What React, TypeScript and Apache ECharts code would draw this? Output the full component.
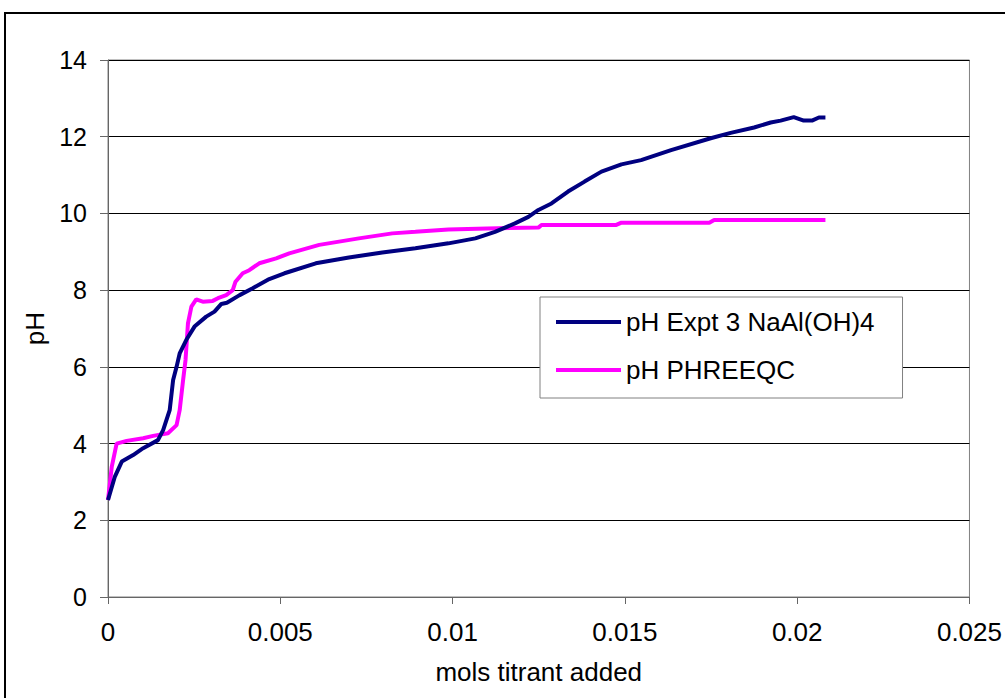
import React, { useEffect, useRef } from "react";
import * as echarts from "echarts";

const exptX = [0, 0.0002, 0.0004, 0.00073, 0.00102, 0.00145, 0.0016, 0.00179, 0.00189, 0.00199, 0.00208, 0.00227, 0.00251, 0.00285, 0.00309, 0.00329, 0.00345, 0.00382, 0.0042, 0.00468, 0.00512, 0.00526, 0.00603, 0.00699, 0.00796, 0.00892, 0.00988, 0.01066, 0.01123, 0.01181, 0.0122, 0.01249, 0.01287, 0.01335, 0.01383, 0.01432, 0.0149, 0.01547, 0.01634, 0.01749, 0.01807, 0.01875, 0.01923, 0.01952, 0.0199, 0.02019, 0.02043, 0.02063, 0.02082];
const exptPH = [2.53, 3.14, 3.53, 3.7, 3.88, 4.09, 4.35, 4.87, 5.66, 6.0, 6.35, 6.7, 7.05, 7.31, 7.44, 7.64, 7.67, 7.87, 8.05, 8.29, 8.44, 8.48, 8.7, 8.85, 8.98, 9.09, 9.22, 9.35, 9.52, 9.74, 9.91, 10.09, 10.26, 10.57, 10.83, 11.09, 11.28, 11.39, 11.65, 11.96, 12.1, 12.24, 12.37, 12.42, 12.51, 12.42, 12.42, 12.5, 12.5];

const phreeqcX = [0, 0.00011, 0.00025, 0.00054, 0.00102, 0.00131, 0.00174, 0.00199, 0.00208, 0.00218, 0.00225, 0.00232, 0.00242, 0.00256, 0.00275, 0.00304, 0.00319, 0.00343, 0.00362, 0.0037, 0.00391, 0.0041, 0.00439, 0.00488, 0.00526, 0.00613, 0.00728, 0.00825, 0.00892, 0.00988, 0.011, 0.01249, 0.01258, 0.01475, 0.0149, 0.01745, 0.01759, 0.02082];
const phreeqcPH = [2.53, 3.4, 4.0, 4.07, 4.14, 4.2, 4.27, 4.48, 4.87, 5.66, 6.18, 7.13, 7.57, 7.76, 7.7, 7.72, 7.79, 7.87, 8.0, 8.22, 8.44, 8.52, 8.7, 8.83, 8.96, 9.18, 9.35, 9.48, 9.52, 9.58, 9.61, 9.63, 9.7, 9.7, 9.76, 9.76, 9.83, 9.83];

const seriesNames = ["pH Expt 3 NaAl(OH)4", "pH PHREEQC"];
const xTitle = "mols titrant added";
const yTitle = "pH";

const FONT = "Liberation Sans, Arial, sans-serif";

export default function App() {
  const ref = useRef<HTMLDivElement>(null);
  useEffect(() => {
    if (!ref.current) return;
    const chart = echarts.init(ref.current, undefined, { renderer: "svg" });
    chart.setOption({
      animation: false,
      backgroundColor: "#ffffff",
      textStyle: { fontFamily: FONT },
      graphic: [
        {
          type: "rect",
          shape: { x: 5, y: 13, width: 1100, height: 800 },
          style: { fill: "none", stroke: "#000", lineWidth: 2 },
          silent: true,
          z: -1,
        },
      ],
      grid: {
        left: 108,
        top: 60,
        right: 32,
        bottom: 101,
        show: true,
        borderColor: "#808080",
        borderWidth: 1,
        backgroundColor: "transparent",
      },
      legend: {
        orient: "vertical",
        left: 540,
        top: 297,
        padding: [10, 28, 13, 16],
        itemGap: 18,
        itemWidth: 65,
        itemHeight: 4,
        icon: "rect",
        backgroundColor: "#fff",
        borderColor: "#808080",
        borderWidth: 1,
        textStyle: { fontFamily: FONT, fontSize: 26, color: "#000", lineHeight: 30 },
        data: seriesNames,
      },
      xAxis: {
        type: "value",
        min: 0,
        max: 0.025,
        interval: 0.005,
        name: xTitle,
        nameLocation: "middle",
        nameGap: 62,
        nameTextStyle: { fontFamily: FONT, fontSize: 26, color: "#000" },
        axisLine: { show: true, onZero: false, lineStyle: { color: "#666", width: 1 } },
        axisTick: { show: true, inside: false, length: 7, lineStyle: { color: "#666" } },
        axisLabel: {
          fontFamily: FONT,
          fontSize: 26,
          color: "#000",
          margin: 22,
          formatter: (v: number) => String(+v.toFixed(3)),
        },
        splitLine: { show: false },
      },
      yAxis: {
        type: "value",
        min: 0,
        max: 14,
        interval: 2,
        name: yTitle,
        nameLocation: "middle",
        nameGap: 60,
        nameRotate: 90,
        nameTextStyle: { fontFamily: FONT, fontSize: 26, color: "#000" },
        axisLine: { show: true, lineStyle: { color: "#666", width: 1 } },
        axisTick: { show: true, inside: false, length: 8, lineStyle: { color: "#666" } },
        axisLabel: { fontFamily: FONT, fontSize: 25, color: "#000", margin: 21 },
        splitLine: { show: true, lineStyle: { color: "#000", width: 1 } },
      },
      series: [
        {
          name: seriesNames[0],
          type: "line",
          symbol: "none",
          smooth: false,
          data: exptX.map((x, i) => [x, exptPH[i]]),
          lineStyle: { color: "#000080", width: 4 },
          itemStyle: { color: "#000080" },
          z: 3,
        },
        {
          name: seriesNames[1],
          type: "line",
          symbol: "none",
          smooth: false,
          data: phreeqcX.map((x, i) => [x, phreeqcPH[i]]),
          lineStyle: { color: "#ff00ff", width: 4 },
          itemStyle: { color: "#ff00ff" },
          z: 2,
        },
      ],
    });
    return () => chart.dispose();
  }, []);
  return (
    <div
      ref={ref}
      style={{ position: "fixed", left: 0, top: 0, width: 1005, height: 698, background: "#fff" }}
    />
  );
}
